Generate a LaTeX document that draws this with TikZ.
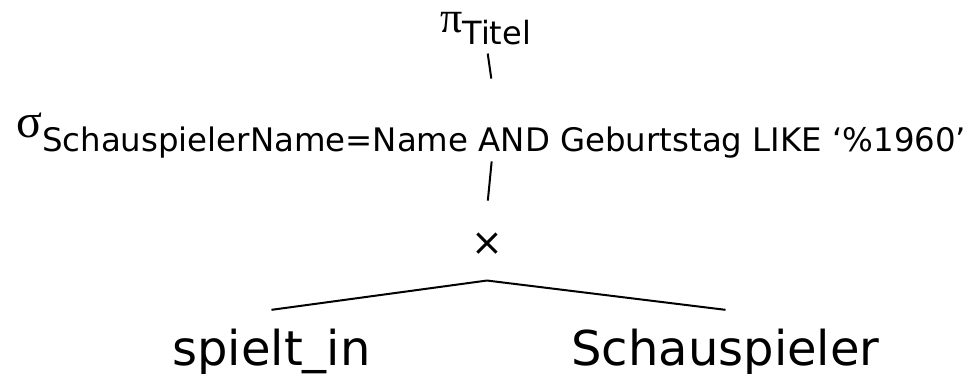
\documentclass[tikz,border=0pt]{standalone}
\usepackage{fontspec}
\setmainfont{DejaVu Sans}
\newfontfamily\greekfont{Liberation Serif}
\usetikzlibrary{positioning}

\begin{document}
\begin{tikzpicture}[x=1pt, y=-1pt,
		opnode/.style={inner sep=0pt, anchor=base west},
		leafnode/.style={inner xsep=0pt, inner ysep=18.5pt, anchor=base, font=\fontsize{48}{50}\selectfont},
		treeline/.style={line width=2pt}]
		\useasboundingbox (0,0) rectangle (968,374);

		\node[opnode](proj) at (440,33){{\greekfont\fontsize{44}{44}\selectfont π}\raisebox{-12pt}{\fontsize{32}{36}\selectfont Titel}};
		\node[opnode](sel) at (16,138){{\greekfont\fontsize{48}{48}\selectfont σ}\raisebox{-14pt}{\fontsize{32.4}{36}\selectfont SchauspielerName=Name AND Geburtstag LIKE ‘\%1960’}};
		\node[inner sep=0pt, font=\fontsize{38}{38}\selectfont](prod) at (487,244){×};

		\node[leafnode](spiel) at (271.5,365){spielt\raisebox{2.5pt}{\_}in};
		\node[leafnode](schau) at (725.5,365){Schauspieler};

		\coordinate (fork) at ([yshift=-25pt]prod.south);

		% draw operator edges
		\draw[treeline, shorten <=8pt, shorten >=35pt] ([xshift=1pt]proj.south) -- ([xshift=5pt]sel.north);
		\draw[treeline, shorten <=2.5pt, shorten >=32pt] ([xshift=0.7pt]sel.south) -- ([xshift=-2.3pt]prod.north);

		% draw leaf edges
		\draw[treeline] (spiel.north) -- (fork) -- (schau.north);
	\end{tikzpicture}
\end{document}
